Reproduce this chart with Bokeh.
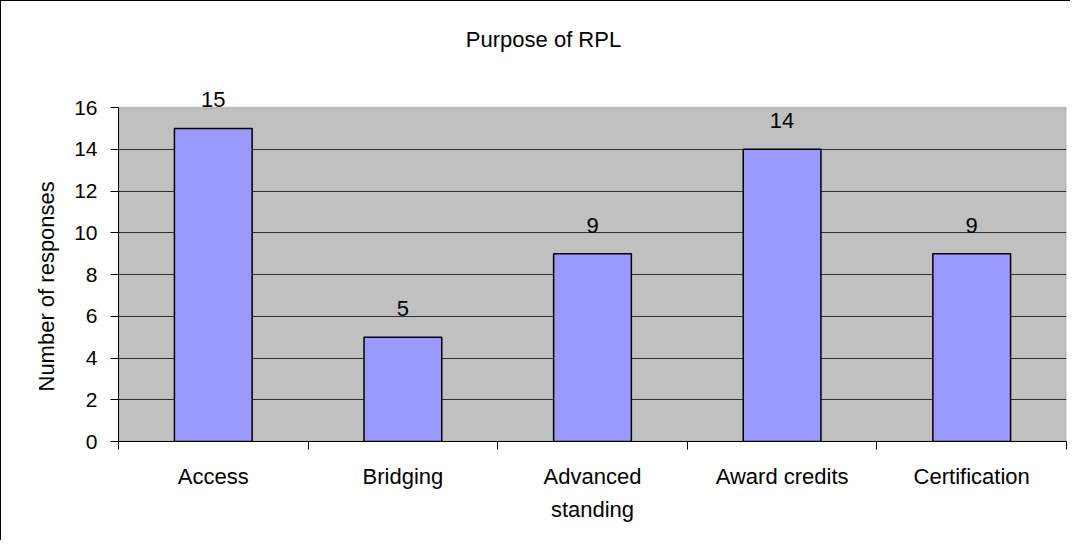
import numpy as np
from bokeh.plotting import figure
from bokeh.models import (ColumnDataSource, Range1d, FixedTicker, LabelSet, Label,
                          BoxAnnotation, Title)
from bokeh.embed import file_html
from bokeh.resources import INLINE
from bokeh.core.properties import value

# ---- data ----
categories = ["Access", "Bridging", "Advanced\nstanding", "Award credits", "Certification"]
responses = [15, 5, 9, 14, 9]
y_ticks = [0, 2, 4, 6, 8, 10, 12, 14, 16]
title_text = "Purpose of RPL"
y_label_text = "Number of responses"

FONT = "Liberation Sans"

n = len(categories)
y_max = y_ticks[-1]
centers = [i + 0.5 for i in range(n)]
boundaries = list(range(n + 1))
source = ColumnDataSource(dict(
    x=centers,
    top=responses,
    label=[str(v) for v in responses],
))

# frame extends above the grey plot area so that labels above it are not clipped
top_extent = y_max * (449 - 9) / (449 - 115)

p = figure(
    width=1070, height=540,
    x_range=Range1d(0, n),
    y_range=Range1d(0, top_extent),
    output_backend="svg", toolbar_location=None, title=None,
    min_border_left=117, min_border_right=5,
    min_border_top=0, min_border_bottom=100,
)
p.styles = {"border-top": "1px solid black", "border-left": "1px solid black"}

p.background_fill_color = "white"
p.border_fill_color = "white"
p.outline_line_color = None

# grey plot area
p.add_layout(BoxAnnotation(left=0, right=n, bottom=0, top=y_max,
                           fill_color="#C0C0C0", fill_alpha=1.0,
                           line_color="#808080", line_width=2, level="image"))

p.vbar(x="x", top="top", bottom=0, width=0.41, source=source,
       fill_color="#9999FF", line_color="black", line_width=1.5)

# grid
p.xgrid.visible = False
p.ygrid.ticker = FixedTicker(ticks=y_ticks[1:-1])
p.ygrid.grid_line_color = "#303030"
p.ygrid.grid_line_width = 1

# x axis
xa = p.xaxis[0]
xa.bounds = (0, n)
xa.ticker = FixedTicker(ticks=centers, minor_ticks=boundaries)
xa.major_label_overrides = {float(c): lab for c, lab in zip(centers, categories)}
xa.major_tick_line_color = None
xa.major_tick_out = 0
xa.major_tick_in = 0
xa.minor_tick_line_color = "black"
xa.minor_tick_out = 8
xa.minor_tick_in = 0
xa.axis_line_color = "black"
xa.axis_line_width = 1
xa.major_label_standoff = 14
xa.major_label_text_font = FONT
xa.major_label_text_font_size = "22px"
xa.major_label_text_color = "black"
xa.major_label_text_line_height = 1.35

# y axis
ya = p.yaxis[0]
ya.bounds = (0, y_max)
ya.ticker = FixedTicker(ticks=y_ticks)
ya.minor_tick_line_color = None
ya.major_tick_out = 8
ya.major_tick_in = 0
ya.major_tick_line_color = "black"
ya.axis_line_color = "black"
ya.major_label_standoff = 13
ya.major_label_text_font = FONT
ya.major_label_text_font_size = "21px"
ya.major_label_text_color = "black"

# y axis title as a side title (left panel, outside the axis)
p.add_layout(Title(text=y_label_text, align="left", offset=50, standoff=26,
                   text_font=FONT, text_font_size="22px", text_font_style="normal",
                   text_color="black"), "left")

# value labels
labels = LabelSet(x="x", y="top", text="label", source=source,
                  y_offset=21, text_align="center", text_baseline="alphabetic",
                  text_font=value(FONT), text_font_size="22px", text_color="black")
p.add_layout(labels)

# chart title
p.add_layout(Label(x=2.2416, y=19.27, text=title_text, text_align="center",
                   text_baseline="alphabetic", text_font=FONT,
                   text_font_size="22px", text_color="black"))

open("out.html", "w").write(file_html(p, INLINE))
